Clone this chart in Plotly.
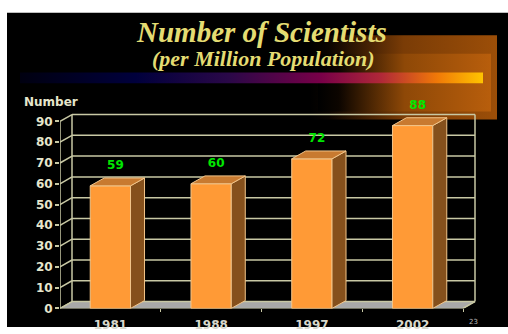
import plotly.graph_objects as go

# Data
years = ["1981", "1988", "1997", "2002"]
scientists = [59, 60, 72, 88]
y_ticks = [0, 10, 20, 30, 40, 50, 60, 70, 80, 90]

W, H = 508, 334

# Front plane of the chart in pixels
PLOT_L, PLOT_R = 60, 480
PLOT_T, PLOT_B = 100, 315
PX_PER_CAT = 100.75
PX_PER_UNIT = 2.122

x_range = [-0.5, -0.5 + (PLOT_R - PLOT_L) / PX_PER_CAT]
y_range = [0, (PLOT_B - PLOT_T) / PX_PER_UNIT]

# Depth offsets (converted into axis units)
wall_dx, wall_dy = 12 / PX_PER_CAT, 7 / PX_PER_UNIT
bar_dx, bar_dy = 14 / PX_PER_CAT, 8 / PX_PER_UNIT
bar_w = 0.4

GRID = "#c8c8a4"
TXT = "#e6e6cc"
FRONT = "#ff9a36"
SIDE = "#85501c"
TOP = "#c87a30"
EDGE = "#f2c58a"

fig = go.Figure()

# ---- decorations on a full-page pixel axis ----
# orange glow panel (outer + inner)
fig.add_trace(go.Scatter(
    x=[310, 497, 497, 310], y=[36, 36, 122, 122], xaxis="x", yaxis="y",
    mode="lines", line=dict(width=0), fill="toself",
    fillgradient=dict(type="horizontal",
                      colorscale=[[0, "#000000"], [0.1, "#0a0400"], [0.5, "#7a3c06"], [1, "#9c4e08"]]),
    hoverinfo="skip", showlegend=False))
fig.add_trace(go.Scatter(
    x=[318, 491, 491, 318], y=[55, 55, 114, 114], xaxis="x", yaxis="y",
    mode="lines", line=dict(width=0), fill="toself",
    fillgradient=dict(type="horizontal",
                      colorscale=[[0, "#000000"], [0.12, "#0c0500"], [0.5, "#8e4807"], [1, "#b85e0c"]]),
    hoverinfo="skip", showlegend=False))
# colour band under the subtitle
fig.add_trace(go.Scatter(
    x=[20, 483, 483, 20], y=[74, 74, 85, 85], xaxis="x", yaxis="y",
    mode="lines", line=dict(width=0), fill="toself",
    fillgradient=dict(type="horizontal",
                      colorscale=[[0, "#000010"], [0.25, "#00003c"], [0.45, "#2a0848"],
                                  [0.65, "#780048"], [0.78, "#b02838"], [0.9, "#f07808"],
                                  [1, "#ffc400"]]),
    hoverinfo="skip", showlegend=False))

# ---- chart ----
fig.add_trace(go.Bar(
    x=list(range(len(years))), y=scientists, width=bar_w,
    marker=dict(color=FRONT, line=dict(color=EDGE, width=1)),
    xaxis="x2", yaxis="y2", hoverinfo="skip", showlegend=False))

for i, v in enumerate(scientists):
    xl, xr = i - bar_w / 2, i + bar_w / 2
    # side face
    fig.add_trace(go.Scatter(
        x=[xr, xr + bar_dx, xr + bar_dx, xr, xr],
        y=[0, bar_dy, v + bar_dy, v, 0],
        mode="lines", fill="toself", fillcolor=SIDE, line=dict(color=EDGE, width=1),
        xaxis="x2", yaxis="y2", hoverinfo="skip", showlegend=False))
    # top face
    fig.add_trace(go.Scatter(
        x=[xl, xr, xr + bar_dx, xl + bar_dx, xl],
        y=[v, v, v + bar_dy, v + bar_dy, v],
        mode="lines", fill="toself", fillcolor=TOP, line=dict(color=EDGE, width=1),
        xaxis="x2", yaxis="y2", hoverinfo="skip", showlegend=False))

# value labels
fig.add_trace(go.Scatter(
    x=[i + 0.05 for i in range(len(years))], y=[v + 9.4 for v in scientists],
    text=[str(v) for v in scientists], mode="text",
    textfont=dict(family="DejaVu Sans", size=12, color="#00e600", weight="bold"),
    xaxis="x2", yaxis="y2", hoverinfo="skip", showlegend=False, cliponaxis=False))

shapes = []
# black slide background
shapes.append(dict(type="rect", xref="paper", yref="paper", x0=7 / W, x1=1, y0=0, y1=1 - 13 / H,
                   fillcolor="black", line=dict(width=0), layer="below"))

x0, x1 = -0.5, len(years) - 0.5
ymax = y_ticks[-1]
# floor
shapes.append(dict(type="path", xref="x2", yref="y2", layer="below",
                   path=f"M{x0},0 L{x1},0 L{x1 + wall_dx},{wall_dy} L{x0 + wall_dx},{wall_dy} Z",
                   fillcolor="#a8a8a8", line=dict(color=GRID, width=1)))
# back wall gridlines and left-side diagonals
for t in y_ticks:
    shapes.append(dict(type="line", xref="x2", yref="y2", layer="below",
                       x0=x0 + wall_dx, x1=x1 + wall_dx, y0=t + wall_dy, y1=t + wall_dy,
                       line=dict(color=GRID, width=1.5)))
    shapes.append(dict(type="line", xref="x2", yref="y2", layer="below",
                       x0=x0, x1=x0 + wall_dx, y0=t, y1=t + wall_dy,
                       line=dict(color=GRID, width=1.5)))
# wall verticals and front axis line
shapes.append(dict(type="line", xref="x2", yref="y2", layer="below",
                   x0=x0 + wall_dx, x1=x0 + wall_dx, y0=wall_dy, y1=ymax + wall_dy,
                   line=dict(color=GRID, width=1.5)))
shapes.append(dict(type="line", xref="x2", yref="y2", layer="below",
                   x0=x1 + wall_dx, x1=x1 + wall_dx, y0=wall_dy, y1=ymax + wall_dy,
                   line=dict(color=GRID, width=1.5)))
shapes.append(dict(type="line", xref="x2", yref="y2", layer="below",
                   x0=x0, x1=x0, y0=0, y1=ymax, line=dict(color=GRID, width=1.5)))
shapes.append(dict(type="line", xref="x2", yref="y2", layer="below",
                   x0=x1, x1=x1 + wall_dx, y0=0, y1=wall_dy, line=dict(color=GRID, width=1.5)))

annotations = [
    dict(text="<i>Number of Scientists</i>", x=261 / W, y=1 - 33 / H, xref="paper", yref="paper",
         showarrow=False, xanchor="center", yanchor="middle",
         font=dict(family="Liberation Serif", size=29, color="#e4dc72", weight="bold")),
    dict(text="<i>(per Million Population)</i>", x=263 / W, y=1 - 60 / H, xref="paper", yref="paper",
         showarrow=False, xanchor="center", yanchor="middle",
         font=dict(family="Liberation Serif", size=22, color="#e4dc72", weight="bold")),
    dict(text="Number", x=22 / W, y=1 - 104 / H, xref="paper", yref="paper",
         showarrow=False, xanchor="left", yanchor="middle",
         font=dict(family="DejaVu Sans", size=12, color=TXT, weight="bold")),
    dict(text="23", x=473 / W, y=1 - 329 / H, xref="paper", yref="paper",
         showarrow=False, xanchor="center", yanchor="middle",
         font=dict(family="DejaVu Sans", size=7, color="#bbbbbb")),
]

fig.update_layout(
    width=W, height=H, autosize=False,
    margin=dict(l=0, r=0, t=0, b=0),
    paper_bgcolor="white", plot_bgcolor="rgba(0,0,0,0)",
    shapes=shapes, annotations=annotations,
    xaxis=dict(domain=[0, 1], range=[0, W], visible=False, fixedrange=True),
    yaxis=dict(domain=[0, 1], range=[H, 0], visible=False, fixedrange=True),
    xaxis2=dict(domain=[PLOT_L / W, PLOT_R / W], range=x_range, anchor="y2",
                tickvals=list(range(len(years))), ticktext=years,
                ticks="outside", ticklen=5, tickcolor="rgba(0,0,0,0)",
                tickfont=dict(family="DejaVu Sans", size=12, color="#d8d8cc", weight="bold"),
                showgrid=False, zeroline=False, showline=False,
                minor=dict(tickvals=[0.5, 1.5, 2.5, 3.5], ticks="outside", ticklen=3,
                           tickcolor=GRID, showgrid=False),
                fixedrange=True),
    yaxis2=dict(domain=[1 - PLOT_B / H, 1 - PLOT_T / H], range=y_range, anchor="x2",
                tickvals=y_ticks, ticktext=[str(t) for t in y_ticks],
                ticks="outside", ticklen=4, tickcolor=GRID, tickwidth=1.5,
                tickfont=dict(family="DejaVu Sans", size=12, color=TXT, weight="bold"),
                showgrid=False, zeroline=False, showline=False, fixedrange=True),
)

fig.write_html("out.html")
